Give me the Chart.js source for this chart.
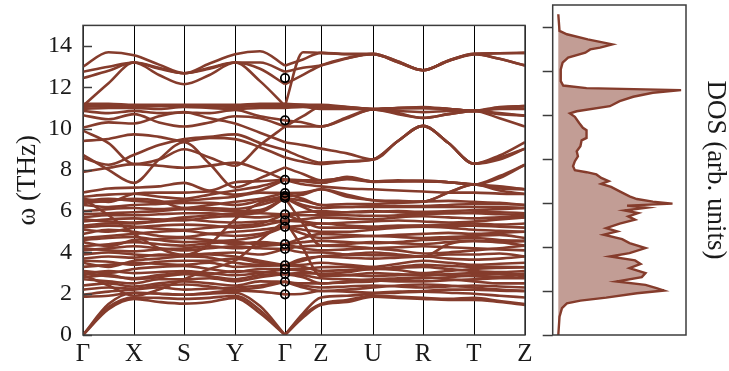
<!DOCTYPE html>
<html>
<head>
<meta charset="utf-8">
<script src="https://cdn.jsdelivr.net/npm/chart.js@4.4.0/dist/chart.umd.min.js"></script>
<style>
  html, body { margin: 0; padding: 0; background: #fff; }
  #wrap { position: relative; width: 729px; height: 371px; overflow: hidden; }
  #bands { position: absolute; left: 0; top: 0; }
  #dos { position: absolute; left: 530px; top: 0; }
</style>
</head>
<body>
<div id="wrap">
  <canvas id="bands" width="545" height="371"></canvas>
  <canvas id="dos" width="199" height="371"></canvas>
</div>
<script>
// k-path: high-symmetry points and the midpoints between them (path length units)
const kPath = [0, 25.5, 51, 76, 101, 126.5, 152, 177, 202, 220, 238, 264, 290, 315, 340, 365.5, 391, 416.5, 442];
const kNodes = [0, 51, 101, 152, 202, 238, 290, 340, 391, 442];
const kLabels = ['Γ', 'X', 'S', 'Y', 'Γ', 'Z', 'U', 'R', 'T', 'Z'];
const freqTicks = [0, 2, 4, 6, 8, 10, 12, 14];

// Phonon frequencies (THz) sampled along kPath
//              Γ      ·      X      ·      S      ·      Y      ·      Γ      ·      Z      ·      U      ·      R      ·      T      ·      Z
const bandsTop = [
  [13.0, 13.7, 13.55, 13.1, 12.68, 13.15, 13.6, 13.75, 13.05, 13.35, 13.67, 13.62, 13.62, 13.25, 12.83, 13.3, 13.62, 13.65, 13.67],
  [12.75, 13.0, 13.2, 12.95, 12.68, 12.95, 13.2, 13.2, 12.75, 12.95, 13.06, 13.4, 13.6, 13.22, 12.83, 13.28, 13.6, 13.38, 13.06],
  [12.45, 12.8, 13.2, 12.6, 12.15, 12.6, 13.2, 12.9, 12.15, 12.6, 13.06, 13.42, 13.62, 13.25, 12.83, 13.3, 13.62, 13.38, 13.06],
  [11.1, 12.2, 13.2, 12.9, 12.68, 12.9, 13.2, 12.3, 11.1, 13.7, 13.67, 13.6, 13.6, 13.22, 12.83, 13.28, 13.6, 13.65, 13.67]
];

const bandsUpper = [
  [11.2, 11.2, 11.15, 11.15, 11.15, 11.15, 11.15, 11.2, 11.2, 11.15, 11.1, 11.05, 10.95, 11.0, 11.0, 10.95, 10.86, 10.95, 10.95],
  [11.15, 11.15, 11.1, 11.1, 11.1, 11.1, 11.1, 11.15, 11.15, 11.15, 11.15, 11.05, 10.95, 11.0, 11.05, 10.95, 10.86, 11.0, 11.1],
  [11.05, 11.1, 11.05, 11.1, 11.1, 11.1, 11.05, 11.1, 11.1, 11.1, 11.05, 11.0, 10.93, 10.98, 11.0, 10.95, 10.86, 11.0, 11.08],
  [10.95, 11.0, 11.0, 10.95, 11.05, 11.0, 10.95, 11.0, 11.0, 11.05, 10.95, 10.95, 10.93, 10.85, 10.8, 10.85, 10.86, 10.75, 10.63],
  [10.85, 10.75, 10.86, 10.75, 10.78, 10.75, 10.9, 10.6, 10.4, 10.3, 10.1, 10.55, 10.93, 10.7, 10.52, 10.7, 10.86, 10.7, 10.63],
  [10.65, 10.45, 10.7, 10.3, 10.1, 10.3, 10.6, 10.5, 10.1, 10.1, 10.1, 10.5, 10.93, 10.75, 10.52, 10.7, 10.86, 10.5, 10.1],
  [10.05, 10.3, 10.25, 10.6, 10.8, 10.5, 10.25, 9.8, 9.34, 9.2, 9.03, 8.8, 8.5, 9.4, 10.13, 9.3, 8.3, 8.6, 9.03],
  [9.4, 9.5, 9.72, 9.6, 9.4, 9.55, 9.49, 9.1, 8.6, 8.4, 8.28, 8.4, 8.5, 9.4, 10.13, 9.3, 8.3, 8.7, 9.34],
  [9.9, 9.3, 8.28, 8.5, 9.0, 8.6, 8.2, 9.2, 10.1, 10.6, 11.05, 11.0, 10.95, 11.0, 11.0, 10.95, 10.86, 11.05, 11.08]
];

const bandsMiddle = [
  [8.73, 8.0, 7.37, 8.5, 9.34, 8.3, 7.15, 7.6, 8.12, 7.8, 7.5, 7.6, 7.44, 7.45, 7.45, 7.4, 7.29, 7.6, 8.25],
  [8.58, 8.25, 8.73, 9.2, 9.49, 9.6, 9.72, 9.3, 8.96, 8.6, 8.35, 8.42, 8.5, 9.4, 10.13, 9.3, 8.3, 8.5, 9.03],
  [7.9, 8.1, 8.28, 8.2, 8.1, 8.2, 8.35, 8.0, 7.52, 7.5, 7.37, 7.55, 7.42, 7.45, 7.48, 7.4, 7.3, 7.15, 7.06],
  [6.9, 7.1, 7.14, 7.2, 7.37, 7.0, 7.4, 7.45, 7.52, 7.5, 7.5, 7.6, 7.44, 7.45, 7.45, 7.4, 7.29, 7.2, 7.06],
  [6.7, 6.8, 6.84, 6.7, 6.6, 6.8, 7.0, 7.2, 7.52, 7.45, 7.37, 7.67, 7.44, 7.5, 7.45, 7.4, 7.29, 7.7, 8.25],
  [6.6, 6.45, 6.84, 6.9, 6.9, 6.95, 6.8, 7.0, 7.52, 7.3, 7.2, 7.1, 7.06, 7.0, 6.95, 6.9, 6.9, 6.85, 6.83],
  [6.5, 6.6, 6.5, 6.45, 6.5, 6.6, 6.7, 6.9, 6.88, 6.9, 7.06, 6.8, 6.53, 6.5, 6.46, 6.9, 7.29, 7.0, 6.83],
  [6.3, 6.2, 6.3, 6.35, 6.4, 6.4, 6.3, 6.5, 6.73, 6.8, 7.06, 6.7, 6.53, 6.45, 6.46, 6.9, 7.29, 7.1, 7.06],
  [6.4, 6.5, 6.6, 6.5, 6.15, 6.3, 6.45, 6.6, 6.88, 6.6, 6.3, 6.35, 6.35, 6.4, 6.46, 6.5, 6.45, 6.4, 6.3],
  [6.0, 6.1, 6.15, 6.1, 6.15, 6.15, 6.1, 6.3, 6.64, 6.5, 6.3, 6.2, 6.25, 6.25, 6.25, 6.3, 6.35, 6.35, 6.3],
  [5.85, 5.9, 5.95, 6.0, 6.1, 6.05, 6.0, 6.05, 6.64, 6.3, 6.15, 6.2, 6.2, 6.2, 6.2, 6.2, 6.2, 6.2, 6.15],
  [5.7, 5.8, 5.8, 5.85, 5.9, 5.9, 5.8, 5.9, 5.84, 5.95, 6.0, 5.95, 5.97, 6.0, 5.97, 6.0, 6.05, 6.1, 6.15],
  [5.6, 5.5, 5.45, 5.55, 5.7, 5.8, 5.9, 5.95, 6.64, 6.2, 5.9, 5.95, 6.0, 5.95, 5.9, 5.9, 5.95, 5.95, 5.9],
  [5.5, 5.6, 5.65, 5.6, 5.55, 5.7, 5.75, 5.7, 5.84, 5.8, 5.8, 5.8, 5.77, 5.8, 5.85, 5.9, 5.9, 5.85, 5.8],
  [5.3, 5.4, 5.4, 5.5, 5.6, 5.5, 5.45, 5.5, 5.54, 5.6, 5.7, 5.65, 5.6, 5.7, 5.75, 5.7, 5.65, 5.7, 5.7],
  [5.2, 5.3, 5.25, 5.15, 5.1, 5.2, 5.3, 5.4, 5.84, 5.5, 5.2, 5.2, 5.2, 5.25, 5.3, 5.3, 5.3, 5.25, 5.2],
  [5.1, 5.0, 5.2, 5.3, 5.35, 5.3, 5.2, 5.3, 5.54, 5.5, 5.4, 5.45, 5.5, 5.55, 5.5, 5.45, 5.5, 5.6, 5.7],
  [4.9, 5.1, 5.0, 4.8, 4.75, 4.9, 5.0, 5.1, 5.24, 5.3, 5.4, 5.3, 5.25, 5.3, 5.3, 5.35, 5.4, 5.35, 5.4],
  [6.6, 5.8, 4.9, 4.2, 3.87, 4.4, 5.6, 6.4, 6.64, 5.4, 4.33, 4.4, 4.5, 4.45, 4.4, 4.5, 4.56, 4.5, 4.33]
];

const bandsLower = [
  [4.7, 4.8, 4.9, 5.0, 5.05, 4.9, 4.8, 4.9, 5.24, 5.1, 5.0, 5.0, 5.1, 5.2, 5.25, 5.2, 5.1, 5.05, 5.0],
  [4.6, 4.7, 4.75, 4.6, 4.5, 4.55, 4.6, 4.8, 5.24, 4.9, 4.7, 4.75, 4.8, 4.75, 4.7, 4.75, 4.8, 4.85, 4.7],
  [4.5, 4.3, 4.6, 4.65, 4.7, 4.6, 4.4, 4.5, 4.4, 4.7, 4.9, 4.85, 4.8, 4.85, 4.9, 4.95, 4.9, 4.95, 5.0],
  [4.3, 4.4, 4.5, 4.4, 4.33, 4.45, 4.5, 4.4, 4.4, 4.5, 4.56, 4.5, 4.45, 4.5, 4.6, 4.65, 4.7, 4.6, 4.56],
  [4.2, 4.1, 4.05, 4.15, 4.2, 4.3, 4.2, 4.3, 4.4, 4.2, 4.1, 4.15, 4.2, 4.25, 4.3, 4.25, 4.2, 4.15, 4.1],
  [4.1, 4.2, 4.3, 4.2, 4.1, 4.2, 4.3, 4.2, 4.17, 4.3, 4.33, 4.3, 4.2, 4.1, 3.95, 4.0, 4.1, 4.2, 4.33],
  [3.9, 4.0, 3.9, 3.85, 3.87, 3.95, 4.0, 3.9, 4.17, 4.0, 4.0, 3.9, 3.87, 3.85, 3.8, 4.4, 4.56, 4.5, 4.56],
  [3.7, 3.8, 3.75, 3.9, 3.87, 3.9, 3.8, 3.6, 3.38, 3.7, 3.8, 3.9, 4.0, 3.9, 3.8, 3.9, 3.9, 3.95, 3.8],
  [3.6, 3.55, 3.4, 3.55, 3.6, 3.6, 3.7, 3.5, 3.38, 3.3, 3.1, 3.15, 3.2, 3.25, 3.3, 3.2, 3.1, 3.05, 3.1],
  [3.5, 3.3, 3.6, 3.7, 3.8, 3.75, 3.5, 3.4, 3.38, 3.6, 3.8, 3.75, 3.7, 3.75, 3.8, 3.7, 3.65, 3.7, 3.8],
  [3.3, 3.4, 3.5, 3.45, 3.4, 3.5, 3.3, 3.35, 3.38, 3.4, 3.5, 3.4, 3.3, 3.45, 3.6, 3.5, 3.4, 3.45, 3.5],
  [3.1, 3.0, 3.2, 3.3, 3.35, 3.2, 3.05, 3.2, 3.19, 3.2, 3.28, 3.3, 3.2, 3.3, 3.4, 3.35, 3.3, 3.3, 3.28],
  [3.0, 2.85, 2.75, 2.9, 3.0, 2.95, 3.1, 3.05, 2.96, 2.9, 2.75, 2.7, 2.65, 2.6, 2.6, 2.65, 2.7, 2.75, 2.75],
  [2.95, 3.1, 3.0, 3.05, 3.1, 3.0, 2.9, 3.0, 3.19, 3.1, 2.96, 3.05, 3.2, 3.15, 3.0, 3.1, 3.2, 3.25, 3.28],
  [2.8, 2.9, 2.7, 2.8, 2.95, 2.85, 2.7, 2.9, 2.96, 3.0, 2.96, 2.9, 2.85, 2.9, 2.95, 2.9, 2.85, 2.8, 2.96],
  [2.7, 2.6, 2.5, 2.7, 2.7, 2.75, 2.6, 2.8, 2.96, 2.8, 2.5, 2.55, 2.6, 2.7, 2.75, 2.8, 2.9, 2.95, 2.96],
  [2.4, 2.5, 2.35, 2.5, 2.6, 2.5, 2.4, 2.6, 2.58, 2.5, 2.5, 2.6, 2.7, 2.75, 2.8, 2.7, 2.6, 2.5, 2.5],
  [2.2, 2.3, 2.25, 2.4, 2.45, 2.35, 2.2, 2.3, 2.58, 2.4, 2.3, 2.35, 2.4, 2.35, 2.3, 2.35, 2.4, 2.35, 2.3],
  [1.95, 2.1, 2.2, 2.3, 2.2, 2.25, 2.3, 2.4, 2.58, 2.3, 2.13, 2.2, 2.3, 2.4, 2.45, 2.4, 2.3, 2.2, 2.13],
  [1.85, 1.9, 2.05, 2.0, 1.95, 2.05, 2.15, 2.1, 1.97, 2.0, 2.13, 2.1, 2.05, 2.1, 2.13, 2.2, 2.2, 2.15, 2.13],
  [2.9, 2.4, 1.9, 2.2, 2.7, 3.2, 3.6, 4.6, 5.54, 4.2, 2.85, 2.9, 3.0, 2.95, 2.9, 2.95, 3.0, 2.95, 2.85]
];

// Acoustic branches (vanish at Γ)
const bandsAcoustic = [
  [0, 1.5, 2.05, 2.0, 1.95, 2.0, 2.05, 1.4, 0, 1.05, 1.82, 1.9, 2.0, 2.05, 2.1, 2.05, 2.0, 1.9, 1.82],
  [0, 1.35, 1.82, 1.8, 1.75, 1.8, 1.9, 1.2, 0, 0.95, 1.5, 1.7, 1.9, 1.85, 1.8, 1.75, 1.8, 1.65, 1.5],
  [0, 1.25, 1.75, 1.6, 1.52, 1.6, 1.8, 1.05, 0, 0.85, 1.46, 1.6, 1.85, 1.8, 1.75, 1.7, 1.7, 1.6, 1.46]
];

// Irreducible-representation markers at Γ (THz)
const gammaModes = [12.45, 10.4, 7.52, 6.88, 6.73, 6.64, 5.84, 5.54, 5.24, 4.4, 4.17, 3.38, 3.19, 2.96, 2.58, 1.97];

// Density of states: frequency (THz) and DOS (arb. units)
const dosFreq = [14.58, 13.82, 13.67, 13.44, 13.21, 13.06, 12.98, 12.83, 12.61, 12.38, 12.07, 11.54, 11.34, 11.22, 11.13, 11.01, 10.83, 10.63, 10.40, 10.17, 10.07, 9.92, 9.64, 9.42, 9.31, 8.96, 8.85, 8.58, 8.35, 8.12, 7.90, 7.67, 7.49, 7.40, 7.30, 7.14, 6.99, 6.87, 6.73, 6.53, 6.30, 6.18, 6.06, 5.97, 5.88, 5.79, 5.66, 5.54, 5.39, 5.24, 5.06, 4.86, 4.71, 4.56, 4.36, 4.18, 3.95, 3.72, 3.57, 3.39, 3.23, 3.04, 2.81, 2.63, 2.43, 2.28, 2.13, 2.02, 1.90, 1.70, 1.56, 1.44, 1.22, 0.83, 0.0];
const dosValue = [0, 0.01, 0.07, 0.24, 0.44, 0.34, 0.26, 0.22, 0.08, 0.035, 0.02, 0.02, 0.04, 0.23, 1.0, 0.77, 0.61, 0.50, 0.42, 0.15, 0.095, 0.135, 0.17, 0.20, 0.23, 0.23, 0.19, 0.18, 0.15, 0.16, 0.135, 0.12, 0.135, 0.23, 0.31, 0.35, 0.41, 0.35, 0.43, 0.50, 0.58, 0.64, 0.77, 0.93, 0.56, 0.72, 0.54, 0.65, 0.57, 0.625, 0.50, 0.39, 0.48, 0.37, 0.52, 0.58, 0.71, 0.58, 0.42, 0.625, 0.67, 0.58, 0.71, 0.68, 0.475, 0.71, 0.80, 0.86, 0.64, 0.39, 0.18, 0.07, 0.03, 0.01, 0];

const BAND_COLOR = '#853c2c';
const DOS_FILL = 'rgba(133, 60, 44, 0.5)';
const SERIF = "'Liberation Serif', 'Times New Roman', Times, serif";
const GAMMA_INDEX = 8;

// Each branch is drawn in two pieces (Γ–X–S–Y–Γ and Γ–Z–U–R–T–Z) so the path kinks at Γ
function branchDatasets(values) {
  const pts = kPath.map((x, i) => ({ x, y: values[i] }));
  const common = {
    borderColor: BAND_COLOR,
    borderWidth: 2.6,
    pointRadius: 0,
    fill: false,
    cubicInterpolationMode: 'monotone'
  };
  return [
    Object.assign({ data: pts.slice(0, GAMMA_INDEX + 1) }, common),
    Object.assign({ data: pts.slice(GAMMA_INDEX) }, common)
  ];
}

const allBands = [].concat(bandsTop, bandsUpper, bandsMiddle, bandsLower, bandsAcoustic);
const datasets = [{
  data: gammaModes.map(v => ({ x: kNodes[4], y: v })),
  showLine: false,
  pointRadius: 4.2,
  pointBorderWidth: 1.8,
  pointBorderColor: '#000',
  pointBackgroundColor: 'rgba(0,0,0,0)'
}];
allBands.forEach(b => datasets.push(...branchDatasets(b)));

// Frame around the plot area plus short tick marks on its left edge
const framePlugin = {
  id: 'frame',
  afterDatasetsDraw(chart, args, opts) {
    const { ctx, chartArea: a } = chart;
    const y = chart.scales.y;
    ctx.save();
    ctx.strokeStyle = opts.color;
    ctx.lineWidth = opts.width;
    freqTicks.forEach(v => {
      const py = Math.round(y.getPixelForValue(v)) + 0.5;
      ctx.beginPath();
      if (opts.inward) { ctx.moveTo(a.left, py); ctx.lineTo(a.left + opts.len, py); }
      else { ctx.moveTo(a.left - opts.len, py); ctx.lineTo(a.left, py); }
      ctx.stroke();
    });
    ctx.strokeRect(a.left, a.top, a.right - a.left, a.bottom - a.top);
    ctx.restore();
  }
};

new Chart(document.getElementById('bands'), {
  type: 'line',
  data: { datasets },
  options: {
    responsive: false,
    animation: false,
    events: [],
    layout: { padding: { top: 5, right: 20, left: 0, bottom: 0 } },
    plugins: {
      legend: { display: false },
      tooltip: { enabled: false },
      frame: { color: '#3c3c3c', width: 1.5, len: 9, inward: true }
    },
    scales: {
      x: {
        type: 'linear',
        min: 0,
        max: 442,
        afterBuildTicks: ax => { ax.ticks = kNodes.map(v => ({ value: v })); },
        afterFit: ax => { ax.height = 36; },
        grid: { color: '#000', lineWidth: 1, drawTicks: false },
        border: { display: false },
        ticks: {
          autoSkip: false,
          maxRotation: 0,
          padding: 4,
          color: '#1a1a1a',
          font: { family: SERIF, size: 25 },
          callback: (v, i) => kLabels[i]
        }
      },
      y: {
        type: 'linear',
        min: 0,
        max: 15,
        afterBuildTicks: ax => { ax.ticks = freqTicks.map(v => ({ value: v })); },
        afterFit: ax => { ax.width = 83; },
        grid: { display: false, drawTicks: false },
        border: { display: false },
        ticks: { padding: 11, color: '#1a1a1a', font: { family: SERIF, size: 24 } },
        title: {
          display: true,
          text: 'ω (THz)',
          color: '#1a1a1a',
          padding: { top: 12, bottom: 0 },
          font: { family: SERIF, size: 27, lineHeight: 1.2 }
        }
      }
    }
  },
  plugins: [framePlugin]
});

new Chart(document.getElementById('dos'), {
  type: 'line',
  data: {
    datasets: [{
      data: dosFreq.map((f, i) => ({ x: dosValue[i], y: f })),
      xAxisID: 'x',
      yAxisID: 'y',
      borderColor: BAND_COLOR,
      borderWidth: 2.4,
      backgroundColor: DOS_FILL,
      fill: 'origin',
      pointRadius: 0,
      tension: 0
    }]
  },
  options: {
    indexAxis: 'y',
    responsive: false,
    animation: false,
    events: [],
    layout: { padding: { top: 5, bottom: 36, left: 0, right: 0 } },
    plugins: {
      legend: { display: false },
      tooltip: { enabled: false },
      frame: { color: '#3c3c3c', width: 1.5, len: 10, inward: false }
    },
    scales: {
      x: { type: 'linear', min: -0.0456, max: 1.04, display: false },
      y: {
        type: 'linear',
        position: 'left',
        min: 0,
        max: 15,
        afterFit: ax => { ax.width = 22.7; },
        grid: { display: false },
        border: { display: false },
        ticks: { display: false }
      },
      y2: {
        type: 'linear',
        position: 'right',
        min: 0,
        max: 15,
        afterFit: ax => { ax.width = 43; },
        grid: { display: false },
        border: { display: false },
        ticks: { display: false },
        title: {
          display: true,
          text: 'DOS (arb. units)',
          color: '#1a1a1a',
          padding: { top: 0, bottom: 0 },
          font: { family: SERIF, size: 27, lineHeight: 1.0 }
        }
      }
    }
  },
  plugins: [framePlugin]
});
</script>
</body>
</html>
